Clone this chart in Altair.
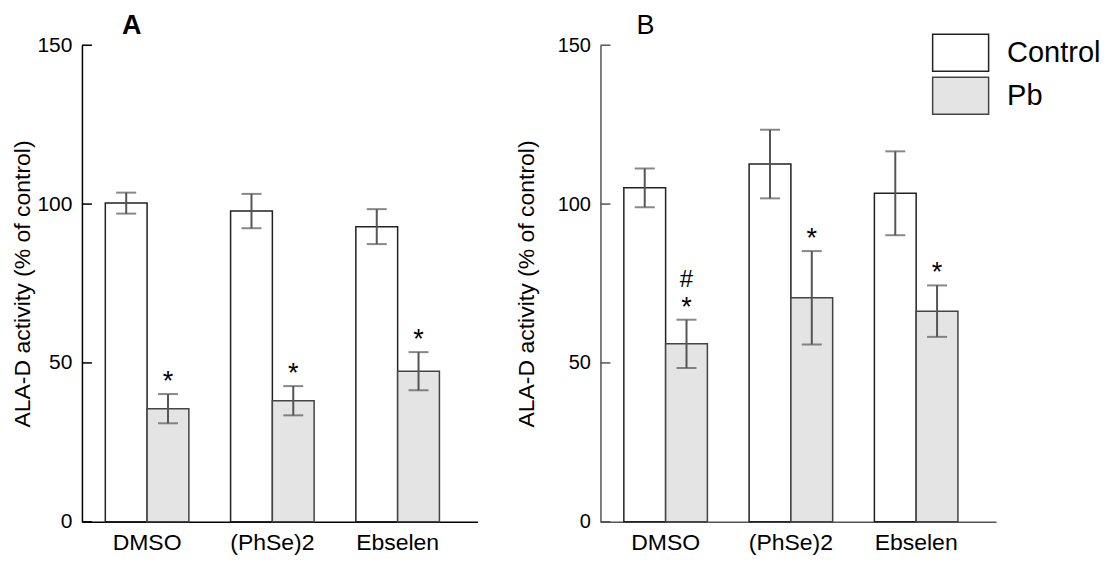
import altair as alt
import pandas as pd

groups = ["DMSO", "(PhSe)2", "Ebselen"]
series = ["Control", "Pb"]

a_control = [100.3, 97.8, 92.9]
a_control_err = [3.3, 5.4, 5.5]
a_pb = [35.6, 38.1, 47.4]
a_pb_err = [4.6, 4.6, 6.0]
a_sig = ["*", "*", "*"]
a_hash = ["", "", ""]

b_control = [105.1, 112.6, 103.4]
b_control_err = [6.1, 10.8, 13.2]
b_pb = [56.0, 70.5, 66.3]
b_pb_err = [7.6, 14.7, 8.1]
b_sig = ["*", "*", "*"]
b_hash = ["#", "", ""]

y_ticks = [0, 50, 100, 150]
y_title = "ALA-D activity (% of control)"
FONT = "Liberation Sans"


def make_df(ctrl, ctrl_err, pb, pb_err, sig, hsh):
    rows = []
    for i, g in enumerate(groups):
        rows.append(dict(group=g, series="Control", value=ctrl[i], err=ctrl_err[i], sig="", hash=""))
        rows.append(dict(group=g, series="Pb", value=pb[i], err=pb_err[i], sig=sig[i], hash=hsh[i]))
    df = pd.DataFrame(rows)
    df["lo"] = df["value"] - df["err"]
    df["hi"] = df["value"] + df["err"]
    return df


legend = alt.Legend(title=None, orient="none", legendX=860, legendY=-12,
                    symbolType="M-1.514,-1L1.514,-1L1.514,1L-1.514,1Z", symbolSize=1369,
                    symbolStrokeWidth=1.5, labelFontSize=29, labelFont=FONT,
                    labelColor="black", labelOffset=27, rowPadding=0, padding=0)


def panel(df, letter, bold, dx, offset, axis_color, ylab_size, title_pad):
    base = alt.Chart(df)
    x = alt.X("group:N", sort=groups, title=None,
              scale=alt.Scale(paddingInner=0.333, paddingOuter=0.2456, align=0.38),
              axis=alt.Axis(labelAngle=0, labelFontSize=23, labelFont=FONT, labelColor="black",
                            ticks=False, domainColor=axis_color, domainWidth=1.5,
                            labelPadding=10))
    xo = alt.XOffset("series:N", sort=series, scale=alt.Scale(paddingInner=0, paddingOuter=0))
    yscale = alt.Scale(domain=[0, 150])
    yaxis = alt.Axis(title=y_title, values=y_ticks, grid=False, ticks=False,
                     labelFontSize=ylab_size, labelFont=FONT, labelColor="black",
                     labelPadding=10, titleFont=FONT, titleFontSize=23,
                     titleFontWeight="normal", titleColor="black", titlePadding=title_pad,
                     domainColor=axis_color, domainWidth=1.5)

    def Y(field):
        return alt.Y(field, scale=yscale, axis=yaxis, title=y_title)

    bars = base.mark_bar(strokeWidth=1.5).encode(
        x=x, xOffset=xo,
        y=Y("value:Q"),
        fill=alt.Fill("series:N", sort=series,
                      scale=alt.Scale(domain=series, range=["white", "#e4e4e4"]), legend=legend),
        stroke=alt.Stroke("series:N", sort=series,
                          scale=alt.Scale(domain=series, range=["#222222", "#444444"]), legend=legend),
    )
    err = base.mark_rule(color="#555555", strokeWidth=2).encode(
        x=x, xOffset=xo, y=Y("lo:Q"), y2="hi:Q")
    cap_hi = base.mark_tick(color="#555555", size=20, thickness=2).encode(
        x=x, xOffset=xo, y=Y("hi:Q"))
    cap_lo = base.mark_tick(color="#555555", size=20, thickness=2).encode(
        x=x, xOffset=xo, y=Y("lo:Q"))
    star = base.mark_text(font=FONT, fontSize=27, dy=-12, baseline="middle", color="black").encode(
        x=x, xOffset=xo, y=Y("hi:Q"), text="sig:N")
    hsh = base.mark_text(font=FONT, fontSize=24, dy=-40, baseline="middle", color="black").encode(
        x=x, xOffset=xo, y=Y("hi:Q"), text="hash:N")
    tick_df = pd.DataFrame({"t": y_ticks})
    yticks = alt.Chart(tick_df).mark_rule(color=axis_color, strokeWidth=1.5).encode(
        y=Y("t:Q"), x=alt.value(0), x2=alt.value(10))
    return alt.layer(bars, err, cap_hi, cap_lo, star, hsh, yticks).properties(
        width=396, height=477,
        title=alt.TitleParams(text=letter, anchor="start", dx=dx, fontSize=27,
                              fontWeight="bold" if bold else "normal", font=FONT,
                              color="black", offset=offset, frame="group"),
    )


df_a = make_df(a_control, a_control_err, a_pb, a_pb_err, a_sig, a_hash)
df_b = make_df(b_control, b_control_err, b_pb, b_pb_err, b_sig, b_hash)

pa = panel(df_a, "A", True, 40, -6, "black", 21, 2)
pb = panel(df_b, "B", False, 36, -5, "#555555", 20, 19)

chart = alt.hconcat(pa, pb, spacing=37).configure(
    background="white", padding={"left": 3, "top": 4, "right": 0, "bottom": 0}
).configure_view(stroke=None)

chart.save("out.html", embed_options={"renderer": "svg", "actions": False})
